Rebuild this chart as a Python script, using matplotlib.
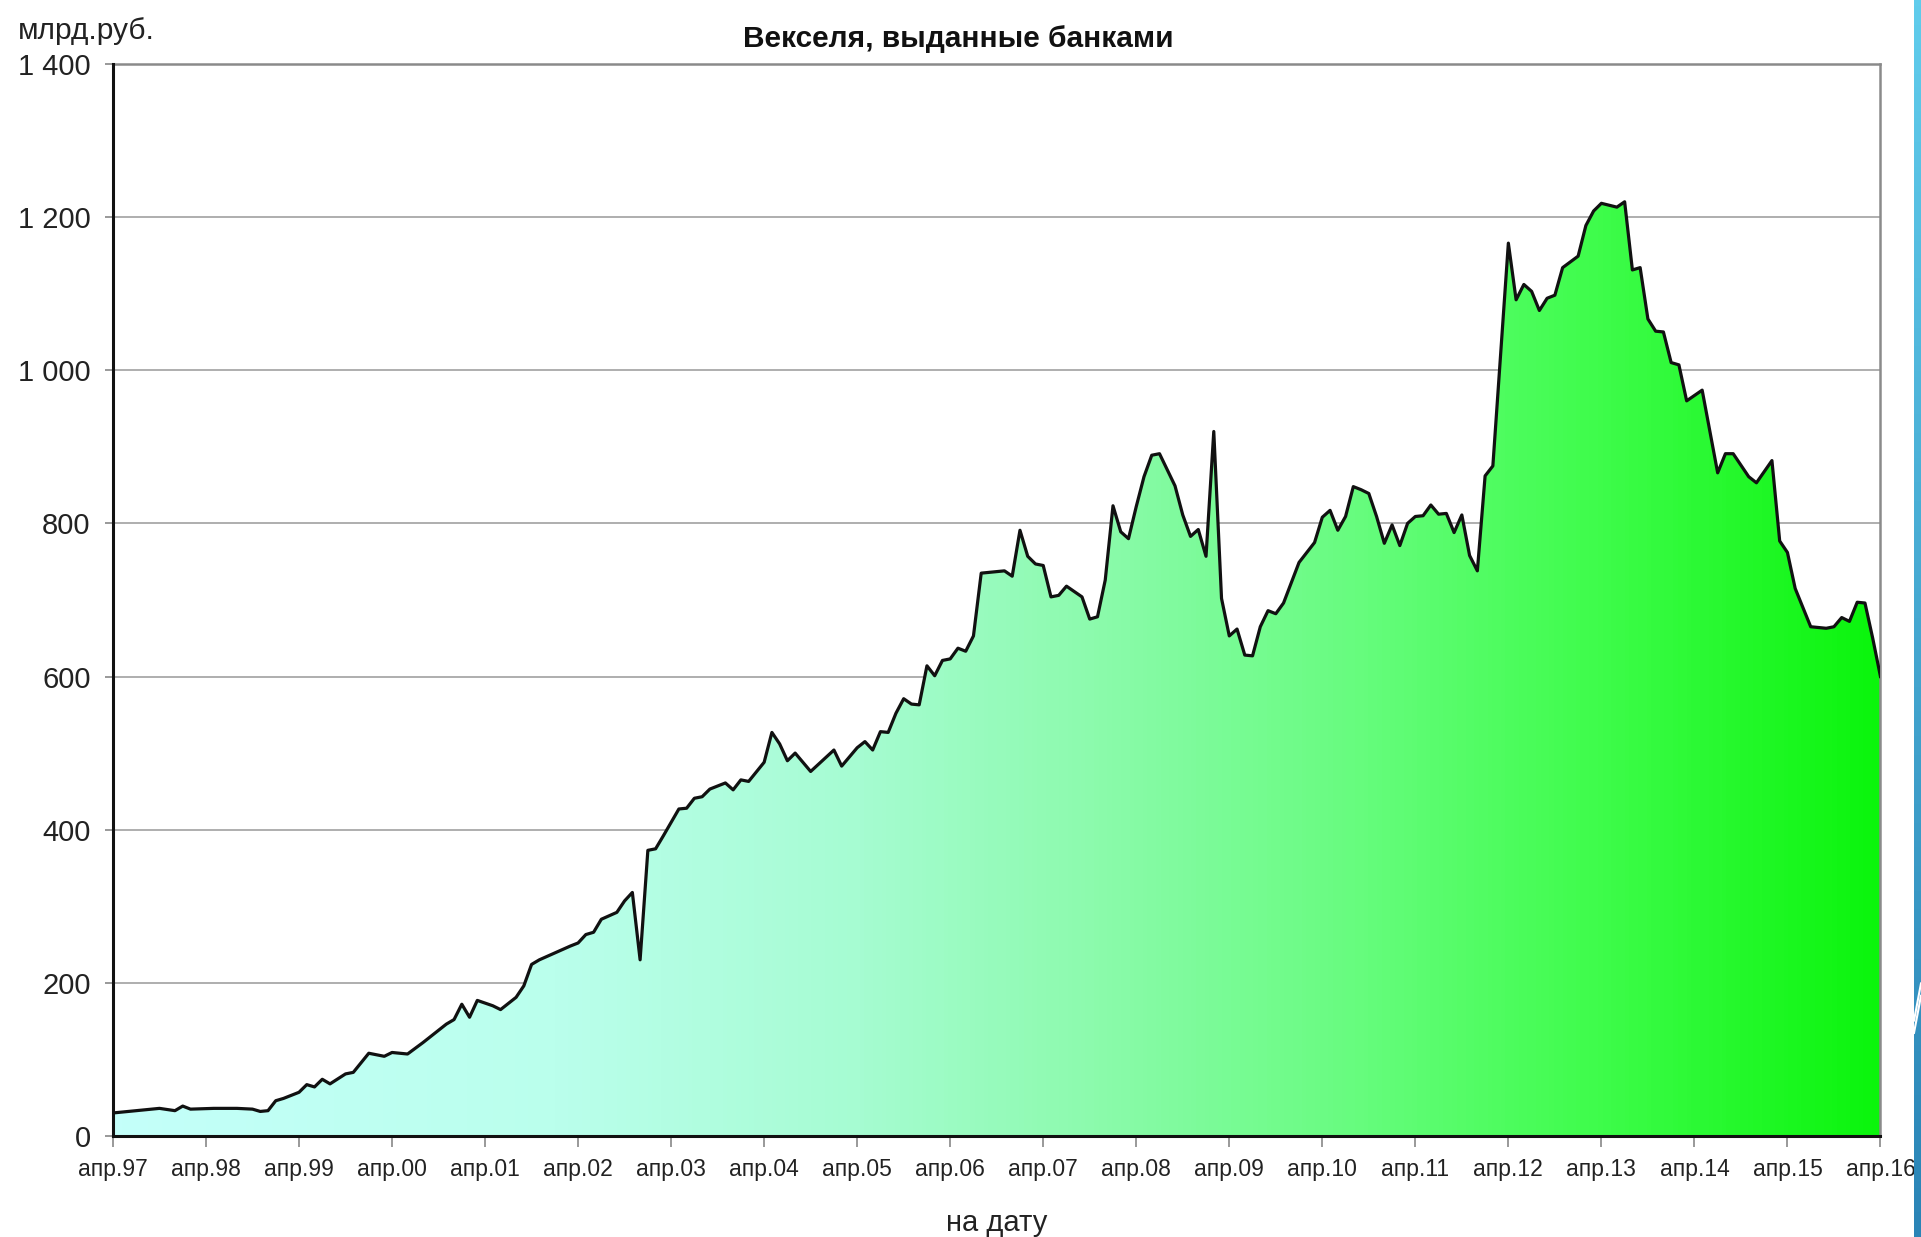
import numpy as np
import matplotlib as mpl
mpl.use('Agg')
from matplotlib import pyplot as plt
from matplotlib.colors import LinearSegmentedColormap
from matplotlib.patches import Polygon

mpl.rcParams['font.family'] = ['Liberation Sans', 'DejaVu Sans']

# months since apr.1997 and bills issued by banks, bn rub
months = [0, 3, 4, 6, 8, 9, 10, 13, 16, 18, 19, 20, 21, 22, 24, 25, 26, 27, 28, 30,
          31, 33, 35, 36, 38, 40, 43, 44, 45, 46, 47, 49, 50, 52, 53, 54, 55, 57, 59, 60,
          61, 62, 63, 65, 66, 67, 68, 69, 70, 71, 73, 74, 75, 76, 77, 79, 80, 81, 82, 84,
          85, 86, 87, 88, 90, 93, 94, 96, 97, 98, 99, 100, 101, 102, 103, 104, 105, 106, 107, 108,
          109, 110, 111, 112, 115, 116, 117, 118, 119, 120, 121, 122, 123, 125, 126, 127, 128, 129, 130, 131,
          132, 133, 134, 135, 137, 138, 139, 140, 141, 142, 143, 144, 145, 146, 147, 148, 149, 150, 151, 153,
          154, 155, 156, 157, 158, 159, 160, 161, 162, 163, 164, 165, 166, 167, 168, 169, 170, 171, 172, 173,
          174, 175, 176, 177, 178, 180, 181, 182, 183, 184, 185, 186, 187, 189, 190, 191, 192, 194, 195, 196,
          197, 198, 199, 200, 201, 202, 203, 205, 207, 208, 209, 211, 212, 214, 215, 216, 217, 219, 221, 222,
          223, 224, 225, 226, 227, 228]
values = [30, 33, 34, 36, 33, 39, 35, 36, 36, 35, 32, 33, 46, 49, 57, 67, 64, 74, 68, 81,
          83, 108, 104, 109, 107, 122, 146, 152, 172, 155, 177, 170, 165, 181, 196, 224, 230, 239, 248, 252,
          263, 266, 283, 292, 307, 318, 230, 373, 375, 392, 427, 428, 441, 443, 453, 461, 452, 465, 463, 488,
          527, 512, 490, 500, 476, 504, 483, 507, 515, 504, 528, 527, 552, 571, 564, 563, 614, 601, 621, 623,
          637, 633, 653, 735, 738, 731, 791, 757, 747, 745, 704, 706, 718, 704, 675, 678, 726, 823, 789, 780,
          822, 861, 889, 891, 849, 811, 783, 792, 757, 920, 702, 653, 662, 628, 627, 665, 686, 682, 696, 749,
          762, 775, 808, 817, 791, 809, 848, 844, 839, 809, 774, 798, 771, 800, 809, 810, 824, 812, 813, 788,
          811, 758, 738, 862, 875, 1166, 1092, 1112, 1103, 1078, 1094, 1098, 1134, 1149, 1189, 1208, 1218, 1213, 1220, 1131,
          1134, 1067, 1051, 1050, 1010, 1007, 960, 974, 866, 891, 891, 861, 853, 882, 777, 762, 715, 665, 663, 665,
          677, 672, 697, 696, 650, 600]

tick_months = list(range(0, 229, 12))
tick_labels = ['апр.%02d' % (y % 100) for y in range(1997, 2017)]
y_ticks = [0, 200, 400, 600, 800, 1000, 1200, 1400]
y_labels = ['0', '200', '400', '600', '800', '1 000', '1 200', '1 400']

grad = LinearSegmentedColormap.from_list('fillgrad', [
    (0.0, '#C4FFFA'), (0.25, '#BAFFEC'), (0.42, '#A6FCD2'), (0.55, '#8DFAAE'),
    (0.7, '#68FC80'), (0.85, '#3CFC48'), (1.0, '#0AF50C')])

fig = plt.figure(figsize=(19.21, 12.37), dpi=100)
ax = fig.add_axes([0.0588, 0.0817, 0.9201, 0.8666])

ax.set_xlim(0, 228)
ax.set_ylim(0, 1400)

# gradient area under the line
poly = Polygon(np.column_stack([[months[0]] + months + [months[-1]],
                                [0] + values + [0]]), closed=True,
               facecolor='none', edgecolor='none')
ax.add_patch(poly)
img = ax.imshow(np.linspace(0, 1, 400).reshape(1, -1), cmap=grad, aspect='auto',
                extent=[0, 228, 0, 1400], origin='lower', zorder=1)
img.set_clip_path(poly)
ax.plot(months, values, color='#111111', lw=2.3, zorder=3)

for v in y_ticks[1:-1]:
    ax.axhline(v, color='#A8A8A8', lw=1.3, zorder=0.5)

ax.set_yticks(y_ticks)
ax.set_yticklabels(y_labels, fontsize=21, color='#222222')
ax.set_xticks(tick_months)
ax.set_xticklabels(tick_labels, fontsize=16.5, color='#222222')
ax.tick_params(axis='y', direction='out', length=6, width=1.2, color='#888888', pad=10)
ax.tick_params(axis='x', direction='out', length=8, width=1.2, color='#888888', pad=8)

for s in ('left', 'bottom'):
    ax.spines[s].set_color('#111111')
    ax.spines[s].set_linewidth(2.2)
    ax.spines[s].set_zorder(4)
for s in ('top', 'right'):
    ax.spines[s].set_color('#8A8A8A')
    ax.spines[s].set_linewidth(1.8)

ax.set_xlabel('на дату', fontsize=21, color='#222222', labelpad=20)
fig.text(958 / 1921, 1 - 39 / 1237, 'Векселя, выданные банками', fontsize=21.5,
         fontweight='bold', ha='center', va='center', color='#111111')
fig.text(18 / 1921, 1 - 31 / 1237, 'млрд.руб.', fontsize=21.5, ha='left',
         va='center', color='#222222')

# blue decorative strip on the right edge
bar = fig.add_axes([1914 / 1921, 0, 7 / 1921, 1])
bar.imshow(np.linspace(0, 1, 200).reshape(-1, 1),
           cmap=LinearSegmentedColormap.from_list('bar', ['#60CCEC', '#2A84B6']),
           aspect='auto', extent=[0, 1, 0, 1], origin='upper')
bar.plot([0, 1], [0.175, 0.205], color='white', lw=1.5)
bar.plot([0, 1], [0.165, 0.195], color='white', lw=1.5)
bar.set_xlim(0, 1)
bar.set_ylim(0, 1)
bar.axis('off')

plt.savefig('out.png', dpi=100)
